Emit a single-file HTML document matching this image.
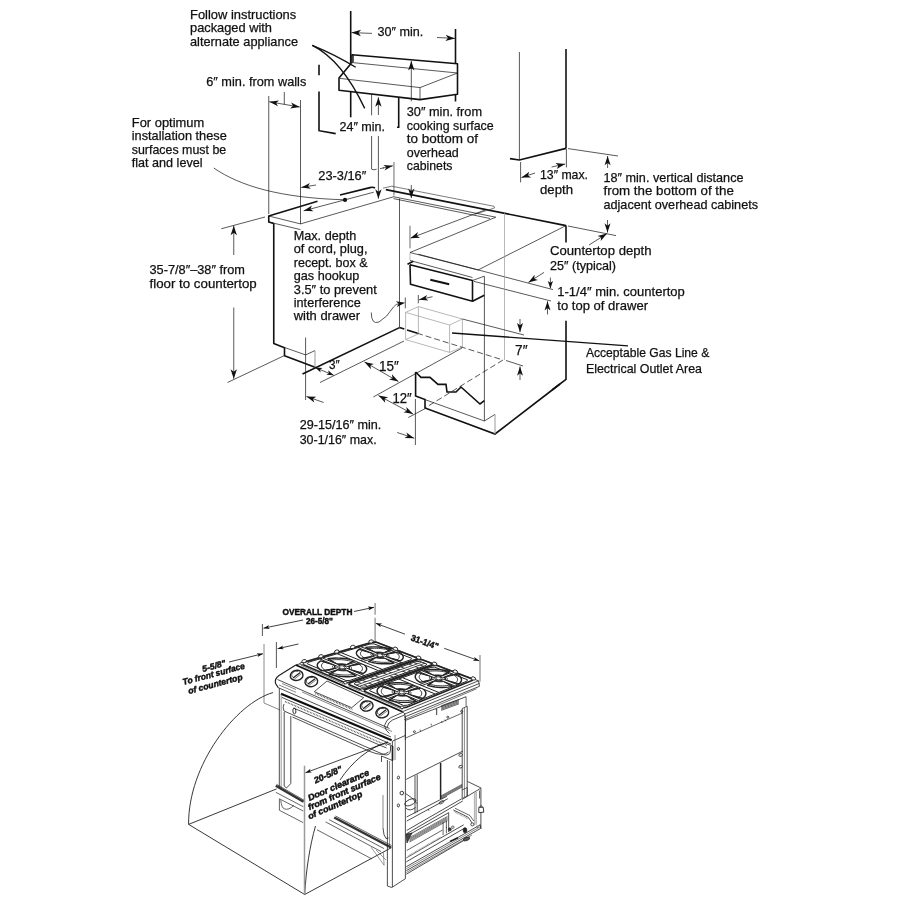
<!DOCTYPE html>
<html><head><meta charset="utf-8"><title>Installation dimensions</title>
<style>html,body{margin:0;padding:0;background:#fff}svg{display:block;will-change:transform;filter:grayscale(1)}text{font-family:"Liberation Sans",sans-serif;fill:#111}</style>
</head><body>
<svg width="900" height="900" viewBox="0 0 900 900">
<rect width="900" height="900" fill="#fff"/>
<text x="190" y="18.75" font-size="12.6" textLength="106.25" lengthAdjust="spacingAndGlyphs" stroke="#111" stroke-width="0.25">Follow instructions</text>
<text x="190" y="32" font-size="12.6" textLength="82" lengthAdjust="spacingAndGlyphs" stroke="#111" stroke-width="0.25">packaged with</text>
<text x="190" y="45.5" font-size="12.6" textLength="108" lengthAdjust="spacingAndGlyphs" stroke="#111" stroke-width="0.25">alternate appliance</text>
<text x="206.25" y="85.75" font-size="12.6" textLength="100" lengthAdjust="spacingAndGlyphs" stroke="#111" stroke-width="0.25">6″ min. from walls</text>
<text x="131.75" y="126.75" font-size="12.6" textLength="72.5" lengthAdjust="spacingAndGlyphs" stroke="#111" stroke-width="0.25">For optimum</text>
<text x="131.75" y="140" font-size="12.6" textLength="95" lengthAdjust="spacingAndGlyphs" stroke="#111" stroke-width="0.25">installation these</text>
<text x="131.75" y="153.5" font-size="12.6" textLength="94.5" lengthAdjust="spacingAndGlyphs" stroke="#111" stroke-width="0.25">surfaces must be</text>
<text x="131.75" y="166.75" font-size="12.6" textLength="70.75" lengthAdjust="spacingAndGlyphs" stroke="#111" stroke-width="0.25">flat and level</text>
<text x="377.5" y="35.5" font-size="12.6" textLength="45.75" lengthAdjust="spacingAndGlyphs" stroke="#111" stroke-width="0.25">30″ min.</text>
<text x="339.5" y="130.75" font-size="12.6" textLength="45.5" lengthAdjust="spacingAndGlyphs" stroke="#111" stroke-width="0.25">24″ min.</text>
<text x="406.75" y="116.25" font-size="12.6" textLength="75.25" lengthAdjust="spacingAndGlyphs" stroke="#111" stroke-width="0.25">30″ min. from</text>
<text x="406.75" y="130" font-size="12.6" textLength="87" lengthAdjust="spacingAndGlyphs" stroke="#111" stroke-width="0.25">cooking surface</text>
<text x="406.75" y="143.25" font-size="12.6" textLength="71.25" lengthAdjust="spacingAndGlyphs" stroke="#111" stroke-width="0.25">to bottom of</text>
<text x="406.75" y="156.75" font-size="12.6" textLength="52" lengthAdjust="spacingAndGlyphs" stroke="#111" stroke-width="0.25">overhead</text>
<text x="406.75" y="170" font-size="12.6" textLength="45.75" lengthAdjust="spacingAndGlyphs" stroke="#111" stroke-width="0.25">cabinets</text>
<text x="318.25" y="180" font-size="12.6" textLength="48" lengthAdjust="spacingAndGlyphs" stroke="#111" stroke-width="0.25">23-3/16″</text>
<text x="293.75" y="240" font-size="12.6" textLength="62.5" lengthAdjust="spacingAndGlyphs" stroke="#111" stroke-width="0.25">Max. depth</text>
<text x="293.75" y="253.25" font-size="12.6" textLength="73.75" lengthAdjust="spacingAndGlyphs" stroke="#111" stroke-width="0.25">of cord, plug,</text>
<text x="293.75" y="266.75" font-size="12.6" textLength="73.75" lengthAdjust="spacingAndGlyphs" stroke="#111" stroke-width="0.25">recept. box &amp;</text>
<text x="293.75" y="280" font-size="12.6" textLength="65.5" lengthAdjust="spacingAndGlyphs" stroke="#111" stroke-width="0.25">gas hookup</text>
<text x="293.75" y="293.75" font-size="12.6" textLength="83" lengthAdjust="spacingAndGlyphs" stroke="#111" stroke-width="0.25">3.5″ to prevent</text>
<text x="293.75" y="307" font-size="12.6" textLength="67" lengthAdjust="spacingAndGlyphs" stroke="#111" stroke-width="0.25">interference</text>
<text x="293.75" y="320" font-size="12.6" textLength="66.25" lengthAdjust="spacingAndGlyphs" stroke="#111" stroke-width="0.25">with drawer</text>
<text x="149.5" y="273.75" font-size="12.6" textLength="95.5" lengthAdjust="spacingAndGlyphs" stroke="#111" stroke-width="0.25">35-7/8″–38″ from</text>
<text x="149.5" y="287.5" font-size="12.6" textLength="107.25" lengthAdjust="spacingAndGlyphs" stroke="#111" stroke-width="0.25">floor to countertop</text>
<text x="299.7" y="428.8" font-size="12.6" textLength="81.6" lengthAdjust="spacingAndGlyphs" stroke="#111" stroke-width="0.25">29-15/16″ min.</text>
<text x="299.7" y="443.8" font-size="12.6" textLength="77" lengthAdjust="spacingAndGlyphs" stroke="#111" stroke-width="0.25">30-1/16″ max.</text>
<text x="550" y="254.8" font-size="12.6" textLength="101.5" lengthAdjust="spacingAndGlyphs" stroke="#111" stroke-width="0.25">Countertop depth</text>
<text x="550" y="269.5" font-size="12.6" textLength="66" lengthAdjust="spacingAndGlyphs" stroke="#111" stroke-width="0.25">25″ (typical)</text>
<text x="557.3" y="296" font-size="12.6" textLength="127.5" lengthAdjust="spacingAndGlyphs" stroke="#111" stroke-width="0.25">1-1/4″ min. countertop</text>
<text x="557.3" y="310" font-size="12.6" textLength="90.7" lengthAdjust="spacingAndGlyphs" stroke="#111" stroke-width="0.25">to top of drawer</text>
<text x="585.9" y="356.7" font-size="12.6" textLength="123.4" lengthAdjust="spacingAndGlyphs" stroke="#111" stroke-width="0.25">Acceptable Gas Line &amp;</text>
<text x="585.9" y="372.7" font-size="12.6" textLength="116.1" lengthAdjust="spacingAndGlyphs" stroke="#111" stroke-width="0.25">Electrical Outlet Area</text>
<text x="540" y="178.6" font-size="12.6" textLength="48" lengthAdjust="spacingAndGlyphs" stroke="#111" stroke-width="0.25">13″ max.</text>
<text x="540" y="193.6" font-size="12.6" textLength="33" lengthAdjust="spacingAndGlyphs" stroke="#111" stroke-width="0.25">depth</text>
<text x="603.5" y="182" font-size="12.6" textLength="140" lengthAdjust="spacingAndGlyphs" stroke="#111" stroke-width="0.25">18″ min. vertical distance</text>
<text x="603.5" y="195.3" font-size="12.6" textLength="130.4" lengthAdjust="spacingAndGlyphs" stroke="#111" stroke-width="0.25">from the bottom of the</text>
<text x="603.5" y="208.7" font-size="12.6" textLength="154.5" lengthAdjust="spacingAndGlyphs" stroke="#111" stroke-width="0.25">adjacent overhead cabinets</text>
<text x="329" y="369" font-size="13" textLength="10.7" lengthAdjust="spacingAndGlyphs" stroke="#111" stroke-width="0.25">3″</text>
<text x="379" y="370.5" font-size="14" textLength="19.7" lengthAdjust="spacingAndGlyphs" stroke="#111" stroke-width="0.25">15″</text>
<text x="392.5" y="402.8" font-size="14" textLength="19.2" lengthAdjust="spacingAndGlyphs" stroke="#111" stroke-width="0.25">12″</text>
<text x="515" y="355.4" font-size="15.5" textLength="12.5" lengthAdjust="spacingAndGlyphs" stroke="#111" stroke-width="0.25">7″</text>
<path d="M350.7 11 L350.7 63.3" fill="none" stroke="#111" stroke-width="1.6"/>
<path d="M350.7 92 L350.7 117.3" fill="none" stroke="#111" stroke-width="1.6"/>
<path d="M455.5 29 L455.5 63.5" fill="none" stroke="#111" stroke-width="1.6"/>
<path d="M455.5 95 L455.5 101.5" fill="none" stroke="#111" stroke-width="1.6"/>
<path d="M372 33.4 L351.5 32.6" fill="none" stroke="#111" stroke-width="0.7"/>
<path d="M351.5 32.6 L361.12 29.77 L358.49 32.87 L360.87 36.17 Z" fill="#111"/>
<path d="M437 37.5 L455 38.4" fill="none" stroke="#111" stroke-width="0.7"/>
<path d="M455 38.4 L445.35 41.12 L448.01 38.05 L445.67 34.73 Z" fill="#111"/>
<path d="M351.3 63.3 L339 78 L339 90.3 L420 99.6 L457.5 94.3 L457.5 63.8 L352 54.8 L352 63.3" fill="none" stroke="#111" stroke-width="1.6" stroke-linejoin="round"/>
<path d="M353.5 55.3 L353.5 62.7 L457.5 73" fill="none" stroke="#111" stroke-width="0.7"/>
<path d="M340 78.4 L420 87.6 L457.5 73" fill="none" stroke="#111" stroke-width="0.7"/>
<path d="M420 87.6 L420 99.5" fill="none" stroke="#111" stroke-width="0.7"/>
<path d="M312.3 45.3 Q336 55 355.7 67.3" fill="none" stroke="#111" stroke-width="1.35"/>
<path d="M312.3 45.3 Q342 60 364.7 108.4" fill="none" stroke="#111" stroke-width="1.35"/>
<path d="M319 64.7 L319 75.3" fill="none" stroke="#111" stroke-width="1.6"/>
<path d="M319 91.6 L319 130.7 L335.7 133.6" fill="none" stroke="#111" stroke-width="1.6"/>
<path d="M371.6 94 L371.6 115.3" fill="none" stroke="#111" stroke-width="0.7"/>
<path d="M371.6 136 L371.6 169" fill="none" stroke="#111" stroke-width="0.7"/>
<path d="M371.6 169.3 L374 169.8 L376.6 169.2" fill="none" stroke="#111" stroke-width="0.7"/>
<path d="M380 168.6 L384 167.8" fill="none" stroke="#111" stroke-width="0.7"/>
<path d="M383 168 L392.8 165.8" fill="none" stroke="#111" stroke-width="0.7"/>
<path d="M392.8 165.8 L384.65 170.6 L386.36 167.25 L383.38 164.94 Z" fill="#111"/>
<path d="M393.9 162 L393.9 195.5" fill="none" stroke="#a8a8a8" stroke-width="1.7"/>
<path d="M378.4 115 L378.4 97.3" fill="none" stroke="#111" stroke-width="0.7"/>
<path d="M378.4 97.3 L381.6 106.8 L378.4 104.3 L375.2 106.8 Z" fill="#111"/>
<path d="M378.4 136 L378.4 198.7" fill="none" stroke="#111" stroke-width="0.7"/>
<path d="M378.4 198.7 L375.2 189.2 L378.4 191.7 L381.6 189.2 Z" fill="#111"/>
<path d="M398.7 97.3 L398.7 127.3 L397 127.3" fill="none" stroke="#111" stroke-width="1.6"/>
<path d="M411.3 101.3 L411.3 61" fill="none" stroke="#111" stroke-width="0.7"/>
<path d="M411.3 61 L414.5 70.5 L411.3 68 L408.1 70.5 Z" fill="#111"/>
<path d="M411.3 185 L411.3 198" fill="none" stroke="#111" stroke-width="0.7"/>
<path d="M411.3 198 L408.1 188.5 L411.3 191 L414.5 188.5 Z" fill="#111"/>
<path d="M268.75 96 L268.75 214" fill="none" stroke="#111" stroke-width="0.7"/>
<path d="M300.5 100 L300.5 224" fill="none" stroke="#111" stroke-width="0.7"/>
<path d="M299.8 107 L269.3 101.8" fill="none" stroke="#111" stroke-width="0.7"/>
<path d="M269.3 101.8 L278.97 100.41 L276.1 102.96 L277.96 106.32 Z" fill="#111"/>
<path d="M299.8 107 L290.13 108.39 L293 105.84 L291.14 102.48 Z" fill="#111"/>
<path d="M284.3 92 L284.3 104.3" fill="none" stroke="#111" stroke-width="0.7"/>
<path d="M213.75 168 C240 186 280 198 345 199.8" fill="none" stroke="#111" stroke-width="0.7"/>
<circle cx="345" cy="199.9" r="2.1" fill="#111"/>
<path d="M316 185 L301.2 187.4" fill="none" stroke="#111" stroke-width="0.7"/>
<path d="M301.2 187.4 L309.9 182.95 L308.01 186.3 L310.86 188.87 Z" fill="#111"/>
<path d="M373.75 192.2 L303.7 210.8" fill="none" stroke="#111" stroke-width="0.7"/>
<path d="M303.7 210.8 L311.92 205.51 L310.37 209.03 L313.46 211.31 Z" fill="#111"/>
<path d="M268.75 216 L317.5 201.3" fill="none" stroke="#111" stroke-width="1.6"/>
<path d="M340 195 L370 187.6 Q373 186.8 375 188" fill="none" stroke="#111" stroke-width="1.6"/>
<path d="M268.75 215.5 L268.75 222 L273.75 223.5" fill="none" stroke="#111" stroke-width="1.6" stroke-linejoin="round"/>
<path d="M268.75 216 L300.5 223.9 L393.5 196.8" fill="none" stroke="#111" stroke-width="0.7"/>
<path d="M268.75 222 L300.5 229.6" fill="none" stroke="#111" stroke-width="0.7"/>
<path d="M273.75 223.5 L273.75 343.5 L284.5 347.7 L284.5 355.7 L315 367.3" fill="none" stroke="#111" stroke-width="1.6" stroke-linejoin="round"/>
<path d="M284.5 347.5 L305.6 354.9 L315 350.6" fill="none" stroke="#111" stroke-width="0.7"/>
<path d="M315 350.6 L315 367.5" fill="none" stroke="#999" stroke-width="1"/>
<path d="M305.6 337.5 L305.6 400" fill="none" stroke="#111" stroke-width="0.7"/>
<path d="M302.5 374 L399.5 327.6" fill="none" stroke="#111" stroke-width="1.6"/>
<path d="M399.5 327.6 L404.3 329.1" fill="none" stroke="#111" stroke-width="1.6"/>
<path d="M407 330 L417.5 333.3" fill="none" stroke="#111" stroke-width="1.6"/>
<path d="M399.5 198.5 L399.5 327.6" fill="none" stroke="#111" stroke-width="0.7"/>
<path d="M221.25 228.75 L265 217" fill="none" stroke="#111" stroke-width="0.7"/>
<path d="M227.5 382.5 L284.5 355.5" fill="none" stroke="#111" stroke-width="0.7"/>
<path d="M233.75 255 L233.75 225.8" fill="none" stroke="#111" stroke-width="0.7"/>
<path d="M233.75 225.8 L236.95 235.3 L233.75 232.8 L230.55 235.3 Z" fill="#111"/>
<path d="M233.75 307.5 L233.75 378.8" fill="none" stroke="#111" stroke-width="0.7"/>
<path d="M233.75 378.8 L230.55 369.3 L233.75 371.8 L236.95 369.3 Z" fill="#111"/>
<path d="M333.7 375.3 L315.2 367.5" fill="none" stroke="#111" stroke-width="0.7"/>
<path d="M315.2 367.5 L322.58 368.01 L319.99 369.52 L320.72 372.43 Z" fill="#111"/>
<path d="M333.7 375.3 L326.32 374.79 L328.91 373.28 L328.18 370.37 Z" fill="#111"/>
<path d="M320 382.5 L404 341" fill="none" stroke="#111" stroke-width="0.7"/>
<path d="M398.5 381.6 L364.4 361.9" fill="none" stroke="#111" stroke-width="0.7"/>
<path d="M364.4 361.9 L373.95 363.95 L370.37 365.35 L370.95 369.15 Z" fill="#111"/>
<path d="M398.5 381.6 L388.95 379.55 L392.53 378.15 L391.95 374.35 Z" fill="#111"/>
<path d="M373.3 397 L462 348" fill="none" stroke="#111" stroke-width="0.7"/>
<path d="M413.1 414.1 L378.5 395.6" fill="none" stroke="#111" stroke-width="0.7"/>
<path d="M378.5 395.6 L388.12 397.34 L384.58 398.85 L385.29 402.63 Z" fill="#111"/>
<path d="M413.1 414.1 L403.48 412.36 L407.02 410.85 L406.31 407.07 Z" fill="#111"/>
<path d="M408.3 417.5 L425 408.7" fill="none" stroke="#111" stroke-width="0.7"/>
<path d="M323.7 402.5 L306.5 396.5" fill="none" stroke="#111" stroke-width="0.7"/>
<path d="M306.5 396.5 L316.27 396.73 L313.01 398.77 L314.29 402.4 Z" fill="#111"/>
<path d="M397.2 432.5 L414.3 438.2" fill="none" stroke="#111" stroke-width="0.7"/>
<path d="M414.3 438.2 L404.53 438.11 L407.75 436.02 L406.43 432.41 Z" fill="#111"/>
<path d="M415.4 399 L415.4 445" fill="none" stroke="#111" stroke-width="0.7"/>
<path d="M385.8 189.6 L566 225.6" fill="none" stroke="#111" stroke-width="1.6"/>
<path d="M568 226 L616 235.6" fill="none" stroke="#111" stroke-width="0.7"/>
<path d="M566 225.6 L566 242.5" fill="none" stroke="#111" stroke-width="1.6"/>
<path d="M566 320.7 L566 379.3 L552 390" fill="none" stroke="#111" stroke-width="1.6"/>
<path d="M383 188.2 L391.7 186.2 L494 206.3 L494.5 208 L475 214.2" fill="none" stroke="#444" stroke-width="0.7"/>
<path d="M393.3 196.7 L495.8 217.2 L410 252.5" fill="none" stroke="#111" stroke-width="0.7"/>
<path d="M393.5 198.6 L490 218.5" fill="none" stroke="#111" stroke-width="0.7"/>
<path d="M485 210 L410.3 238.2" fill="none" stroke="#111" stroke-width="0.7"/>
<path d="M410.3 238.2 L417.94 232.11 L416.76 235.76 L420.06 237.72 Z" fill="#111"/>
<path d="M410 225.8 L410 248.3" fill="none" stroke="#a8a8a8" stroke-width="1.7"/>
<path d="M410 252.5 L410 260.5" fill="none" stroke="#bbb" stroke-width="1"/>
<path d="M566 225.6 L478 270" fill="none" stroke="#111" stroke-width="0.7"/>
<path d="M410 252.5 L478.3 270" fill="none" stroke="#111" stroke-width="0.7"/>
<path d="M418.3 254.2 L553 289.6" fill="none" stroke="#111" stroke-width="0.7"/>
<path d="M410 260.5 L472.5 277.5" fill="none" stroke="#111" stroke-width="0.7"/>
<path d="M474 281.4 L551 301" fill="none" stroke="#111" stroke-width="0.7"/>
<path d="M410 264.7 L472.5 280.5 L472.5 301.3 L410.5 284.2 L410 264.7" fill="none" stroke="#111" stroke-width="1.6" stroke-linejoin="round"/>
<path d="M472.5 301.3 L484.3 295.2" fill="none" stroke="#111" stroke-width="1.6"/>
<path d="M472.5 280.5 L484.3 276.2" fill="none" stroke="#111" stroke-width="0.7"/>
<path d="M484.4 276.2 L484.4 421" fill="none" stroke="#111" stroke-width="0.7"/>
<path d="M430.3 279.7 L449.2 284.2" fill="none" stroke="#111" stroke-width="2"/>
<path d="M407.5 264.2 L413.3 261.3" fill="none" stroke="#111" stroke-width="1.6"/>
<path d="M589 245 L607 233.6" fill="none" stroke="#111" stroke-width="0.7"/>
<path d="M607 233.6 L600.75 241.11 L601.17 237.29 L597.54 236.04 Z" fill="#111"/>
<path d="M607.5 220 L607.5 232.6" fill="none" stroke="#111" stroke-width="0.7"/>
<path d="M607.5 232.6 L604.5 223.3 L607.5 225.7 L610.5 223.3 Z" fill="#111"/>
<path d="M544 272.4 L528.4 282.4" fill="none" stroke="#111" stroke-width="0.7"/>
<path d="M528.4 282.4 L534.61 274.86 L534.21 278.68 L537.85 279.91 Z" fill="#111"/>
<path d="M550.4 277.6 L550.4 288.4" fill="none" stroke="#111" stroke-width="0.7"/>
<path d="M550.4 288.4 L547.8 280.9 L550.4 282.8 L553 280.9 Z" fill="#111"/>
<path d="M547.5 314.4 L547.5 301.2" fill="none" stroke="#111" stroke-width="0.7"/>
<path d="M547.5 301.2 L550.5 310.5 L547.5 308.1 L544.5 310.5 Z" fill="#111"/>
<path d="M504.5 213 L504.5 360" fill="none" stroke="#999" stroke-width="0.7"/>
<path d="M405.6 312.4 L449.6 325 L449.6 352.4 L405.6 339.6 L405.6 312.4" fill="none" stroke="#9a9a9a" stroke-width="0.7"/>
<path d="M405.6 312.4 L418.4 306.6 L462.4 319 L449.6 325" fill="none" stroke="#9a9a9a" stroke-width="0.7"/>
<path d="M462.4 319 L462.4 347 L449.6 352.4" fill="none" stroke="#9a9a9a" stroke-width="0.7"/>
<path d="M418.4 306.6 L418.4 334 L405.6 339.6" fill="none" stroke="#9a9a9a" stroke-width="0.7"/>
<path d="M405.3 297.5 L405.3 308.3" fill="none" stroke="#111" stroke-width="0.7"/>
<path d="M418.3 295 L418.3 303.3" fill="none" stroke="#111" stroke-width="0.7"/>
<path d="M432.5 296.7 L419 299.8" fill="none" stroke="#111" stroke-width="0.7"/>
<path d="M419 299.8 L427.12 294.96 L425.43 298.32 L428.42 300.61 Z" fill="#111"/>
<path d="M371.3 312.5 Q371.3 325 379 322 Q387 317.5 393.5 307 Q396 303.6 399.5 303.6" fill="none" stroke="#111" stroke-width="0.7"/>
<path d="M405.2 302.7 L396.78 307.01 L398.69 303.76 L395.85 301.29 Z" fill="#111"/>
<path d="M417 333.2 L503 360" fill="none" stroke="#111" stroke-width="0.7" stroke-dasharray="6 3"/>
<path d="M503 360 L425 408" fill="none" stroke="#111" stroke-width="0.7" stroke-dasharray="6 3"/>
<path d="M506 360.5 L523 366" fill="none" stroke="#111" stroke-width="0.7"/>
<path d="M462.4 319 L524 335" fill="none" stroke="#111" stroke-width="0.7"/>
<path d="M452 333 L628 345.8" fill="none" stroke="#111" stroke-width="1.35"/>
<path d="M520 319 L520 332.2" fill="none" stroke="#111" stroke-width="0.7"/>
<path d="M520 332.2 L517 322.9 L520 325.3 L523 322.9 Z" fill="#111"/>
<path d="M520 380 L520 366.4" fill="none" stroke="#111" stroke-width="0.7"/>
<path d="M520 366.4 L523 375.7 L520 373.3 L517 375.7 Z" fill="#111"/>
<path d="M415.6 372 L421 377.4 L430 377.4 L438 384.4 L446 384.4 L447 392 L456 392 L461 387 L480 404 L484.4 400.6" fill="none" stroke="#111" stroke-width="1.6"/>
<path d="M415.6 372 L415.6 396 L425 399.6 L425 408 L495 434 L560 384" fill="none" stroke="#111" stroke-width="1.6"/>
<path d="M425 399.6 L484.4 421 L495 414.4" fill="none" stroke="#111" stroke-width="0.7"/>
<path d="M495 414.4 L495 434" fill="none" stroke="#999" stroke-width="1"/>
<path d="M519.4 52 L519.4 159.6" fill="none" stroke="#111" stroke-width="0.7"/>
<path d="M566 49 L566 148.4" fill="none" stroke="#111" stroke-width="1.6"/>
<path d="M510 158.6 L519.4 160 L566 148.4" fill="none" stroke="#111" stroke-width="1.6" stroke-linejoin="round"/>
<path d="M568 148.6 L618 156" fill="none" stroke="#111" stroke-width="0.7"/>
<path d="M607.6 168 L607.6 156" fill="none" stroke="#111" stroke-width="0.7"/>
<path d="M607.6 156 L610.6 165.3 L607.6 162.9 L604.6 165.3 Z" fill="#111"/>
<path d="M520.6 162 L520.6 182.4" fill="none" stroke="#111" stroke-width="0.7"/>
<path d="M566.4 149 L566.4 167.4" fill="none" stroke="#111" stroke-width="0.7"/>
<path d="M535 173 L521.4 177.6" fill="none" stroke="#111" stroke-width="0.7"/>
<path d="M521.4 177.6 L529.25 171.78 L527.94 175.39 L531.17 177.46 Z" fill="#111"/>
<path d="M551.6 167 L565.2 164" fill="none" stroke="#111" stroke-width="0.7"/>
<path d="M565.2 164 L556.76 168.93 L558.46 165.49 L555.47 163.07 Z" fill="#111"/>
<defs><filter id="soft" x="-5%" y="-5%" width="110%" height="110%"><feGaussianBlur stdDeviation="0.38"/></filter></defs>
<g id="range" filter="url(#soft)">
<text x="282.6" y="615" font-size="8.6" font-weight="bold" stroke="#111" stroke-width="0.45" stroke-linejoin="round" textLength="69.8" lengthAdjust="spacingAndGlyphs">OVERALL DEPTH</text>
<text x="306" y="623.6" font-size="8.6" font-weight="bold" stroke="#111" stroke-width="0.45" stroke-linejoin="round" textLength="27" lengthAdjust="spacingAndGlyphs">26-5/8"</text>
<path d="M262.4 624 L262.4 636" fill="none" stroke="#555" stroke-width="1"/>
<path d="M303 620 L263.5 628.2" fill="none" stroke="#111" stroke-width="0.8"/>
<path d="M263.5 628.2 L268.97 625.02 L267.91 627.29 L269.78 628.94 Z" fill="#111"/>
<path d="M354 611.5 L374 607.3" fill="none" stroke="#111" stroke-width="0.8"/>
<path d="M374 607.3 L368.54 610.49 L369.6 608.22 L367.72 606.58 Z" fill="#111"/>
<path d="M375.1 603 L375.1 614.8" fill="none" stroke="#8a8a8a" stroke-width="1.2"/>
<path d="M375.1 617.8 L375.1 641.5" fill="none" stroke="#8a8a8a" stroke-width="1.2"/>
<path d="M264 644 L264 703 L280 710" fill="none" stroke="#8a8a8a" stroke-width="1"/>
<path d="M276.4 642 L276.4 668" fill="none" stroke="#555" stroke-width="1"/>
<path d="M298.4 644 L277.6 648.7" fill="none" stroke="#111" stroke-width="0.8"/>
<path d="M277.6 648.7 L283.01 645.43 L281.99 647.71 L283.89 649.33 Z" fill="#111"/>
<path d="M229 662 L263 653.7" fill="none" stroke="#111" stroke-width="0.8"/>
<path d="M263 653.7 L257.65 657.07 L258.63 654.77 L256.7 653.18 Z" fill="#111"/>
<text x="203" y="672" font-size="8.6" font-weight="bold" stroke="#111" stroke-width="0.45" stroke-linejoin="round" font-style="italic" textLength="24" lengthAdjust="spacingAndGlyphs" transform="rotate(-15 203 672)">5-5/8"</text>
<text x="183.6" y="685" font-size="8.6" font-weight="bold" stroke="#111" stroke-width="0.45" stroke-linejoin="round" font-style="italic" textLength="64" lengthAdjust="spacingAndGlyphs" transform="rotate(-15 183.6 685)">To front surface</text>
<text x="189" y="694" font-size="8.6" font-weight="bold" stroke="#111" stroke-width="0.45" stroke-linejoin="round" font-style="italic" textLength="56" lengthAdjust="spacingAndGlyphs" transform="rotate(-15 189 694)">of countertop</text>
<text x="410.3" y="640.3" font-size="8.8" font-weight="bold" stroke="#111" stroke-width="0.45" stroke-linejoin="round" textLength="28.5" lengthAdjust="spacingAndGlyphs" transform="rotate(19 410.3 640.3)">31-1/4"</text>
<path d="M480 655 L480 681.7" fill="none" stroke="#8a8a8a" stroke-width="1.2"/>
<path d="M405 634.2 L375.8 623.3" fill="none" stroke="#111" stroke-width="0.8"/>
<path d="M375.8 623.3 L382.12 623.52 L380.02 624.87 L380.72 627.27 Z" fill="#111"/>
<path d="M444.2 648.3 L479.2 660.8" fill="none" stroke="#111" stroke-width="0.8"/>
<path d="M479.2 660.8 L472.88 660.67 L474.96 659.29 L474.22 656.9 Z" fill="#111"/>
<path d="M273 692.6 C236 703 188 765 188.6 824.4" fill="none" stroke="#222" stroke-width="0.9"/>
<path d="M276.6 788.9 L188.6 824.4 L304.7 894.5 L391.5 847.6" fill="none" stroke="#222" stroke-width="0.9"/>
<path d="M304.7 894.5 C306 870 310 845 315.5 826" fill="none" stroke="#222" stroke-width="0.9"/>
<path d="M340 780 C352 762 368 748 388 742" fill="none" stroke="#222" stroke-width="0.9"/>
<path d="M304.5 765.7 L304.5 894.5" fill="none" stroke="#9a9a9a" stroke-width="1.5"/>
<path d="M388 742 L305.5 772.8" fill="none" stroke="#111" stroke-width="0.8"/>
<path d="M305.5 772.8 L310.42 768.83 L309.72 771.23 L311.82 772.58 Z" fill="#111"/>
<text x="315.5" y="783.5" font-size="8.8" font-weight="bold" stroke="#111" stroke-width="0.45" stroke-linejoin="round" font-style="italic" textLength="30" lengthAdjust="spacingAndGlyphs" transform="rotate(-24 315.5 783.5)">20-5/8"</text>
<text x="309.4" y="801" font-size="8.8" font-weight="bold" stroke="#111" stroke-width="0.45" stroke-linejoin="round" font-style="italic" textLength="66" lengthAdjust="spacingAndGlyphs" transform="rotate(-23.5 309.4 801)">Door clearance</text>
<text x="309.4" y="810.3" font-size="8.8" font-weight="bold" stroke="#111" stroke-width="0.45" stroke-linejoin="round" font-style="italic" textLength="78.5" lengthAdjust="spacingAndGlyphs" transform="rotate(-23.5 309.4 810.3)">from front surface</text>
<text x="309.4" y="819.5" font-size="8.8" font-weight="bold" stroke="#111" stroke-width="0.45" stroke-linejoin="round" font-style="italic" textLength="58.5" lengthAdjust="spacingAndGlyphs" transform="rotate(-23.5 309.4 819.5)">of countertop</text>
<path d="M295.8 665 L375.5 641.7 L478.5 680.8 L402.5 711.7" fill="none" stroke="#222" stroke-width="0.8" stroke-linejoin="round"/>
<path d="M295.8 665 L402.5 711.7" fill="none" stroke="#111" stroke-width="1.8"/>
<path d="M404 714.3 L479.5 683.4" fill="none" stroke="#222" stroke-width="0.8"/>
<path d="M404 717.2 L479.5 686.3" fill="none" stroke="#222" stroke-width="0.8"/>
<path d="M404 719.7 L476.5 688.8" fill="none" stroke="#555" stroke-width="0.8"/>
<path d="M478.5 680.8 L479.5 686.3" fill="none" stroke="#222" stroke-width="0.8"/>
<path d="M301.25 665.35 L344.95 684.38" fill="none" stroke="#555" stroke-width="0.8"/>
<path d="M348.46 685.92 L360.4 691.12" fill="none" stroke="#555" stroke-width="0.8"/>
<path d="M363.81 692.6 L402.5 709.46" fill="none" stroke="#555" stroke-width="0.8"/>
<path d="M301.68 663.93 L344.52 682.6 L348.35 682.45 L416.26 659.23 L417.16 657.88 L375.7 642.06 L371.87 642.21 L302.58 662.58 Z" fill="none" stroke="#222" stroke-width="1.6" stroke-linejoin="round"/>
<path d="M307.18 663.7 L346.12 680.57 L349.95 680.42 L410.89 659.72 L411.79 658.36 L373.98 643.83 L370.15 643.98 L308.07 662.35 Z" fill="none" stroke="#222" stroke-width="1" stroke-linejoin="round"/>
<path d="M348.89 684.5 L359.97 689.33 L363.79 689.15 L431.23 664.97 L432.11 663.59 L421.39 659.5 L417.6 659.75 L349.74 683.05 Z" fill="none" stroke="#222" stroke-width="1.6" stroke-linejoin="round"/>
<path d="M354.31 684.12 L361.55 687.26 L365.37 687.07 L425.88 665.51 L426.76 664.12 L419.74 661.42 L415.95 661.67 L355.16 682.67 Z" fill="none" stroke="#222" stroke-width="1" stroke-linejoin="round"/>
<path d="M364.24 691.19 L402.07 707.67 L405.84 707.4 L472.01 680.61 L472.85 679.14 L436.24 665.16 L432.47 665.45 L365.07 689.7 Z" fill="none" stroke="#222" stroke-width="1.6" stroke-linejoin="round"/>
<path d="M369.64 690.76 L403.58 705.46 L407.35 705.19 L466.73 681.28 L467.57 679.81 L434.61 667.14 L430.85 667.42 L370.47 689.27 Z" fill="none" stroke="#222" stroke-width="1" stroke-linejoin="round"/>
<path d="M363.1 673.49 L364.42 672.64 L365.45 671.71 L366.17 670.74 L366.57 669.72 L366.65 668.67 L366.4 667.61 L365.84 666.55 L364.96 665.5 L363.78 664.48 L362.31 663.51 L348.12 666.14 L348.56 666.44 L348.92 666.75 L349.18 667.07 L349.35 667.39 L349.43 667.71 L349.4 668.02 L349.28 668.32 L349.06 668.61 L348.75 668.89 L348.35 669.14 Z" fill="none" stroke="#222" stroke-width="1.45" stroke-linejoin="round"/>
<path d="M359.52 672.44 L360.62 671.73 L361.47 670.97 L362.07 670.16 L362.41 669.32 L362.47 668.45 L362.27 667.57 L361.8 666.69 L361.07 665.81 L360.09 664.97 L358.87 664.15 L349.84 665.82 L350.41 666.21 L350.87 666.6 L351.21 667.01 L351.43 667.42 L351.52 667.83 L351.49 668.23 L351.33 668.62 L351.05 669 L350.66 669.35 L350.14 669.67 Z" fill="none" stroke="#222" stroke-width="0.9" stroke-linejoin="round"/>
<path d="M356.1 675.85 L353.69 676.24 L351.11 676.51 L348.42 676.66 L345.64 676.68 L342.81 676.56 L339.96 676.32 L337.14 675.95 L334.39 675.46 L331.73 674.86 L329.21 674.15 L338.17 669.31 L338.93 669.52 L339.72 669.69 L340.55 669.84 L341.39 669.94 L342.25 670.02 L343.1 670.05 L343.93 670.05 L344.74 670.01 L345.51 669.93 L346.24 669.82 Z" fill="none" stroke="#222" stroke-width="1.45" stroke-linejoin="round"/>
<path d="M353.7 674.38 L351.7 674.7 L349.56 674.93 L347.33 675.04 L345.02 675.06 L342.67 674.96 L340.31 674.76 L337.97 674.45 L335.68 674.05 L333.47 673.55 L331.38 672.97 L337.08 669.9 L338.05 670.16 L339.07 670.39 L340.13 670.57 L341.22 670.71 L342.31 670.8 L343.4 670.85 L344.47 670.85 L345.51 670.79 L346.5 670.69 L347.44 670.55 Z" fill="none" stroke="#222" stroke-width="0.9" stroke-linejoin="round"/>
<path d="M328 658.77 L330.44 658.43 L333.04 658.2 L335.75 658.09 L338.54 658.1 L341.38 658.22 L344.22 658.46 L347.03 658.8 L349.77 659.26 L352.4 659.81 L354.9 660.46 L345.88 665.2 L345.13 665 L344.34 664.83 L343.51 664.69 L342.67 664.59 L341.82 664.51 L340.97 664.48 L340.13 664.48 L339.32 664.52 L338.54 664.59 L337.81 664.7 Z" fill="none" stroke="#222" stroke-width="1.45" stroke-linejoin="round"/>
<path d="M330.38 660.21 L332.41 659.92 L334.56 659.73 L336.81 659.63 L339.12 659.64 L341.48 659.74 L343.83 659.93 L346.17 660.22 L348.44 660.6 L350.63 661.07 L352.71 661.61 L346.97 664.63 L346.01 664.37 L344.99 664.15 L343.94 663.97 L342.85 663.83 L341.76 663.74 L340.67 663.7 L339.59 663.7 L338.55 663.74 L337.56 663.84 L336.62 663.97 Z" fill="none" stroke="#222" stroke-width="0.9" stroke-linejoin="round"/>
<path d="M320.9 660.9 L319.55 661.7 L318.5 662.58 L317.76 663.52 L317.35 664.52 L317.27 665.56 L317.51 666.63 L318.09 667.71 L318.98 668.79 L320.19 669.85 L321.68 670.89 L335.93 668.35 L335.48 668.05 L335.12 667.74 L334.86 667.42 L334.69 667.09 L334.61 666.77 L334.64 666.46 L334.76 666.16 L334.98 665.87 L335.29 665.6 L335.69 665.36 Z" fill="none" stroke="#222" stroke-width="1.45" stroke-linejoin="round"/>
<path d="M324.49 661.99 L323.38 662.65 L322.51 663.39 L321.89 664.17 L321.55 665 L321.48 665.87 L321.69 666.75 L322.17 667.65 L322.91 668.54 L323.9 669.42 L325.14 670.28 L334.2 668.67 L333.63 668.27 L333.17 667.87 L332.82 667.46 L332.6 667.04 L332.51 666.63 L332.54 666.23 L332.7 665.85 L332.98 665.48 L333.38 665.13 L333.9 664.82 Z" fill="none" stroke="#222" stroke-width="0.9" stroke-linejoin="round"/>
<path d="M325.37 671.58 L337.7 667.68 L340.24 668.76 L327.93 672.69 Z" fill="#fff" stroke="#222" stroke-width="1" stroke-linejoin="round"/>
<path d="M343.81 665.75 L356.53 661.73 L359.05 662.76 L346.34 666.82 Z" fill="#fff" stroke="#222" stroke-width="1" stroke-linejoin="round"/>
<path d="M319.77 658.89 L337.37 666.33 L340.21 665.44 L322.64 658.04 Z" fill="#fff" stroke="#222" stroke-width="1" stroke-linejoin="round"/>
<path d="M343.84 669.07 L361.44 676.52 L364.25 675.56 L346.68 668.16 Z" fill="#fff" stroke="#222" stroke-width="1" stroke-linejoin="round"/>
<ellipse cx="342.02" cy="667.25" rx="2.6" ry="1.5" fill="#fff" stroke="#222" stroke-width="0.8" transform="rotate(8 342.02 667.25)"/>
<path d="M400.32 660.97 L401.48 660.2 L402.35 659.35 L402.93 658.46 L403.21 657.53 L403.17 656.57 L402.83 655.6 L402.19 654.64 L401.26 653.68 L400.04 652.75 L398.56 651.85 L385.48 654.23 L385.93 654.5 L386.3 654.78 L386.58 655.08 L386.77 655.37 L386.88 655.66 L386.88 655.95 L386.8 656.22 L386.63 656.49 L386.36 656.74 L386.01 656.96 Z" fill="none" stroke="#222" stroke-width="1.45" stroke-linejoin="round"/>
<path d="M396.85 660.01 L397.81 659.36 L398.54 658.67 L399.02 657.93 L399.25 657.16 L399.22 656.36 L398.94 655.56 L398.41 654.75 L397.63 653.96 L396.62 653.18 L395.39 652.43 L387.07 653.94 L387.65 654.29 L388.12 654.66 L388.48 655.03 L388.73 655.4 L388.86 655.78 L388.87 656.14 L388.76 656.5 L388.54 656.84 L388.2 657.16 L387.75 657.45 Z" fill="none" stroke="#222" stroke-width="0.9" stroke-linejoin="round"/>
<path d="M393.98 663.11 L391.75 663.46 L389.36 663.71 L386.84 663.83 L384.22 663.84 L381.55 663.73 L378.85 663.51 L376.17 663.16 L373.53 662.71 L370.97 662.16 L368.53 661.51 L376.46 657.1 L377.19 657.29 L377.96 657.45 L378.75 657.59 L379.55 657.69 L380.36 657.75 L381.17 657.79 L381.95 657.79 L382.71 657.75 L383.43 657.68 L384.1 657.58 Z" fill="none" stroke="#222" stroke-width="1.45" stroke-linejoin="round"/>
<path d="M391.58 661.76 L389.72 662.05 L387.74 662.25 L385.65 662.36 L383.48 662.36 L381.26 662.27 L379.02 662.08 L376.79 661.8 L374.6 661.43 L372.48 660.97 L370.45 660.43 L375.5 657.63 L376.44 657.88 L377.42 658.09 L378.43 658.26 L379.47 658.39 L380.5 658.47 L381.53 658.52 L382.54 658.52 L383.51 658.47 L384.43 658.38 L385.3 658.25 Z" fill="none" stroke="#222" stroke-width="0.9" stroke-linejoin="round"/>
<path d="M365.82 647.45 L368.07 647.15 L370.48 646.95 L373.02 646.85 L375.64 646.86 L378.32 646.98 L381.01 647.2 L383.69 647.52 L386.31 647.94 L388.85 648.46 L391.26 649.06 L383.28 653.37 L382.56 653.18 L381.79 653.02 L381 652.89 L380.2 652.79 L379.39 652.73 L378.59 652.69 L377.8 652.69 L377.05 652.72 L376.32 652.79 L375.65 652.89 Z" fill="none" stroke="#222" stroke-width="1.45" stroke-linejoin="round"/>
<path d="M368.2 648.77 L370.07 648.51 L372.07 648.34 L374.17 648.26 L376.35 648.27 L378.57 648.36 L380.81 648.55 L383.03 648.82 L385.21 649.17 L387.32 649.6 L389.32 650.1 L384.25 652.84 L383.32 652.6 L382.34 652.4 L381.33 652.24 L380.3 652.11 L379.26 652.02 L378.23 651.98 L377.22 651.98 L376.25 652.02 L375.32 652.1 L374.45 652.22 Z" fill="none" stroke="#222" stroke-width="0.9" stroke-linejoin="round"/>
<path d="M359.37 649.38 L358.19 650.11 L357.3 650.91 L356.7 651.77 L356.42 652.68 L356.45 653.63 L356.79 654.61 L357.44 655.6 L358.39 656.59 L359.63 657.56 L361.13 658.51 L374.26 656.22 L373.81 655.95 L373.44 655.66 L373.15 655.36 L372.96 655.07 L372.86 654.78 L372.85 654.49 L372.93 654.22 L373.11 653.95 L373.37 653.71 L373.73 653.49 Z" fill="none" stroke="#222" stroke-width="1.45" stroke-linejoin="round"/>
<path d="M362.86 650.38 L361.88 650.99 L361.14 651.66 L360.65 652.38 L360.41 653.13 L360.44 653.92 L360.72 654.73 L361.26 655.55 L362.05 656.37 L363.07 657.18 L364.32 657.96 L372.66 656.5 L372.09 656.15 L371.61 655.78 L371.25 655.4 L371 655.02 L370.87 654.65 L370.86 654.28 L370.96 653.93 L371.19 653.59 L371.53 653.28 L371.99 652.99 Z" fill="none" stroke="#222" stroke-width="0.9" stroke-linejoin="round"/>
<path d="M360.48 660.48 L375.86 655.61 L378.35 656.6 L362.99 661.5 Z" fill="#fff" stroke="#222" stroke-width="1" stroke-linejoin="round"/>
<path d="M381.39 653.86 L391.64 650.62 L394.12 651.57 L383.88 654.84 Z" fill="#fff" stroke="#222" stroke-width="1" stroke-linejoin="round"/>
<path d="M357.97 647.58 L375.27 654.42 L378.11 653.53 L360.83 646.74 Z" fill="#fff" stroke="#222" stroke-width="1" stroke-linejoin="round"/>
<path d="M381.63 656.94 L398.94 663.78 L401.75 662.82 L384.47 656.03 Z" fill="#fff" stroke="#222" stroke-width="1" stroke-linejoin="round"/>
<ellipse cx="379.87" cy="655.23" rx="2.6" ry="1.5" fill="#fff" stroke="#222" stroke-width="0.8" transform="rotate(8 379.87 655.23)"/>
<path d="M337.2 653.73 L378.55 670.71 L382.3 669.43 L341.02 652.6 Z" fill="#fff" stroke="#222" stroke-width="1" stroke-linejoin="round"/>
<path d="M422.55 698.44 L423.83 697.48 L424.81 696.46 L425.48 695.39 L425.84 694.28 L425.88 693.16 L425.6 692.02 L425.01 690.9 L424.11 689.81 L422.91 688.75 L421.43 687.74 L407.54 691.01 L407.98 691.32 L408.35 691.64 L408.62 691.97 L408.8 692.31 L408.88 692.65 L408.87 692.99 L408.76 693.32 L408.56 693.63 L408.26 693.94 L407.88 694.22 Z" fill="none" stroke="#222" stroke-width="1.45" stroke-linejoin="round"/>
<path d="M418.99 697.42 L420.05 696.63 L420.87 695.78 L421.43 694.9 L421.73 693.98 L421.76 693.04 L421.53 692.11 L421.03 691.17 L420.28 690.26 L419.29 689.38 L418.06 688.54 L409.23 690.61 L409.8 691.01 L410.26 691.42 L410.61 691.85 L410.84 692.28 L410.95 692.72 L410.93 693.15 L410.79 693.57 L410.53 693.98 L410.15 694.37 L409.66 694.73 Z" fill="none" stroke="#222" stroke-width="0.9" stroke-linejoin="round"/>
<path d="M415.75 701.18 L413.38 701.67 L410.86 702.04 L408.21 702.28 L405.47 702.39 L402.68 702.35 L399.87 702.18 L397.08 701.87 L394.34 701.43 L391.71 700.87 L389.2 700.19 L397.86 694.72 L398.61 694.92 L399.4 695.08 L400.21 695.21 L401.05 695.3 L401.89 695.35 L402.73 695.36 L403.55 695.33 L404.35 695.26 L405.11 695.16 L405.82 695.01 Z" fill="none" stroke="#222" stroke-width="1.45" stroke-linejoin="round"/>
<path d="M413.33 699.67 L411.37 700.08 L409.27 700.39 L407.07 700.58 L404.8 700.67 L402.48 700.64 L400.15 700.5 L397.83 700.24 L395.57 699.88 L393.38 699.42 L391.3 698.86 L396.8 695.38 L397.77 695.64 L398.78 695.85 L399.83 696.01 L400.9 696.13 L401.98 696.19 L403.06 696.21 L404.12 696.17 L405.14 696.08 L406.11 695.94 L407.03 695.76 Z" fill="none" stroke="#222" stroke-width="0.9" stroke-linejoin="round"/>
<path d="M387.46 683.72 L389.85 683.28 L392.4 682.95 L395.06 682.75 L397.81 682.67 L400.61 682.71 L403.42 682.87 L406.2 683.16 L408.91 683.56 L411.53 684.08 L414.01 684.7 L405.3 690.07 L404.55 689.88 L403.77 689.72 L402.95 689.6 L402.11 689.51 L401.27 689.46 L400.43 689.44 L399.61 689.47 L398.81 689.54 L398.05 689.64 L397.34 689.78 Z" fill="none" stroke="#222" stroke-width="1.45" stroke-linejoin="round"/>
<path d="M389.86 685.18 L391.84 684.81 L393.95 684.54 L396.16 684.37 L398.44 684.3 L400.77 684.33 L403.09 684.47 L405.4 684.71 L407.66 685.05 L409.83 685.48 L411.89 686 L406.36 689.42 L405.4 689.17 L404.39 688.97 L403.34 688.81 L402.27 688.69 L401.19 688.63 L400.11 688.61 L399.06 688.65 L398.03 688.73 L397.05 688.86 L396.14 689.04 Z" fill="none" stroke="#222" stroke-width="0.9" stroke-linejoin="round"/>
<path d="M380.54 686.23 L379.24 687.13 L378.24 688.11 L377.55 689.14 L377.18 690.23 L377.13 691.35 L377.42 692.49 L378.02 693.63 L378.94 694.76 L380.16 695.86 L381.67 696.93 L395.61 693.76 L395.16 693.45 L394.8 693.12 L394.52 692.79 L394.34 692.45 L394.26 692.11 L394.27 691.77 L394.38 691.44 L394.59 691.13 L394.89 690.83 L395.27 690.55 Z" fill="none" stroke="#222" stroke-width="1.45" stroke-linejoin="round"/>
<path d="M384.12 687.28 L383.05 688.04 L382.22 688.85 L381.64 689.71 L381.34 690.62 L381.3 691.55 L381.53 692.49 L382.03 693.44 L382.8 694.37 L383.81 695.29 L385.06 696.16 L393.92 694.15 L393.34 693.75 L392.87 693.33 L392.52 692.9 L392.29 692.46 L392.18 692.02 L392.2 691.59 L392.34 691.17 L392.6 690.77 L392.99 690.39 L393.49 690.03 Z" fill="none" stroke="#222" stroke-width="0.9" stroke-linejoin="round"/>
<path d="M385.33 697.56 L397.34 692.99 L399.88 694.06 L387.88 698.66 Z" fill="#fff" stroke="#222" stroke-width="1" stroke-linejoin="round"/>
<path d="M403.28 690.72 L415.67 686.01 L418.19 687.04 L405.81 691.79 Z" fill="#fff" stroke="#222" stroke-width="1" stroke-linejoin="round"/>
<path d="M381.85 685.15 L396.96 691.55 L399.73 690.5 L384.63 684.15 Z" fill="#fff" stroke="#222" stroke-width="1" stroke-linejoin="round"/>
<path d="M403.43 694.29 L418.54 700.68 L421.28 699.58 L406.19 693.22 Z" fill="#fff" stroke="#222" stroke-width="1" stroke-linejoin="round"/>
<ellipse cx="401.58" cy="692.39" rx="2.6" ry="1.5" fill="#fff" stroke="#222" stroke-width="0.8" transform="rotate(8 401.58 692.39)"/>
<path d="M458.79 683.88 L459.9 683.01 L460.73 682.08 L461.27 681.1 L461.5 680.09 L461.44 679.07 L461.07 678.03 L460.4 677.01 L459.44 676 L458.21 675.04 L456.71 674.11 L443.92 677.06 L444.37 677.35 L444.74 677.64 L445.03 677.94 L445.23 678.25 L445.34 678.56 L445.36 678.87 L445.29 679.17 L445.13 679.46 L444.87 679.74 L444.54 679.99 Z" fill="none" stroke="#222" stroke-width="1.45" stroke-linejoin="round"/>
<path d="M455.33 682.94 L456.26 682.22 L456.95 681.45 L457.39 680.64 L457.59 679.81 L457.53 678.96 L457.23 678.1 L456.67 677.25 L455.88 676.41 L454.85 675.6 L453.61 674.83 L445.47 676.71 L446.05 677.07 L446.53 677.45 L446.9 677.84 L447.16 678.23 L447.3 678.63 L447.32 679.03 L447.23 679.41 L447.02 679.79 L446.7 680.14 L446.27 680.47 Z" fill="none" stroke="#222" stroke-width="0.9" stroke-linejoin="round"/>
<path d="M452.61 686.36 L450.43 686.81 L448.08 687.14 L445.6 687.36 L443.03 687.44 L440.39 687.41 L437.72 687.24 L435.06 686.96 L432.45 686.55 L429.91 686.03 L427.48 685.41 L435.13 680.43 L435.86 680.61 L436.62 680.76 L437.4 680.88 L438.2 680.97 L439 681.01 L439.79 681.03 L440.57 681 L441.31 680.94 L442.02 680.85 L442.68 680.72 Z" fill="none" stroke="#222" stroke-width="1.45" stroke-linejoin="round"/>
<path d="M450.2 684.99 L448.38 685.36 L446.43 685.63 L444.37 685.8 L442.24 685.87 L440.05 685.84 L437.83 685.71 L435.63 685.47 L433.46 685.13 L431.35 684.71 L429.34 684.19 L434.2 681.03 L435.14 681.27 L436.11 681.46 L437.12 681.61 L438.14 681.72 L439.17 681.78 L440.18 681.8 L441.17 681.77 L442.13 681.69 L443.04 681.57 L443.88 681.4 Z" fill="none" stroke="#222" stroke-width="0.9" stroke-linejoin="round"/>
<path d="M424.28 670.36 L426.49 669.96 L428.86 669.67 L431.35 669.49 L433.94 669.42 L436.58 669.47 L439.24 669.63 L441.89 669.89 L444.49 670.27 L447.01 670.75 L449.42 671.32 L441.72 676.2 L440.99 676.03 L440.23 675.88 L439.45 675.76 L438.66 675.68 L437.86 675.63 L437.07 675.62 L436.29 675.64 L435.54 675.7 L434.84 675.79 L434.18 675.92 Z" fill="none" stroke="#222" stroke-width="1.45" stroke-linejoin="round"/>
<path d="M426.68 671.71 L428.52 671.37 L430.48 671.13 L432.55 670.98 L434.69 670.92 L436.88 670.95 L439.09 671.09 L441.29 671.31 L443.46 671.62 L445.55 672.02 L447.55 672.5 L442.65 675.61 L441.72 675.38 L440.75 675.19 L439.75 675.04 L438.72 674.94 L437.7 674.88 L436.68 674.86 L435.69 674.89 L434.73 674.96 L433.82 675.08 L432.97 675.24 Z" fill="none" stroke="#222" stroke-width="0.9" stroke-linejoin="round"/>
<path d="M418.01 672.64 L416.87 673.46 L416.02 674.35 L415.47 675.29 L415.22 676.28 L415.29 677.31 L415.66 678.35 L416.34 679.39 L417.31 680.42 L418.56 681.44 L420.08 682.41 L432.93 679.55 L432.47 679.26 L432.1 678.97 L431.81 678.66 L431.61 678.35 L431.5 678.04 L431.48 677.73 L431.55 677.43 L431.71 677.14 L431.97 676.87 L432.3 676.62 Z" fill="none" stroke="#222" stroke-width="1.45" stroke-linejoin="round"/>
<path d="M421.48 673.61 L420.54 674.3 L419.83 675.04 L419.38 675.82 L419.17 676.65 L419.23 677.49 L419.54 678.36 L420.1 679.22 L420.91 680.08 L421.95 680.92 L423.21 681.72 L431.37 679.9 L430.79 679.53 L430.31 679.15 L429.93 678.75 L429.67 678.35 L429.53 677.95 L429.51 677.56 L429.6 677.18 L429.81 676.81 L430.13 676.46 L430.57 676.14 Z" fill="none" stroke="#222" stroke-width="0.9" stroke-linejoin="round"/>
<path d="M419.51 684.55 L434.48 678.85 L436.98 679.84 L422.02 685.57 Z" fill="#fff" stroke="#222" stroke-width="1" stroke-linejoin="round"/>
<path d="M439.87 676.79 L449.85 673 L452.33 673.95 L442.36 677.77 Z" fill="#fff" stroke="#222" stroke-width="1" stroke-linejoin="round"/>
<path d="M419 671.71 L433.86 677.58 L436.63 676.53 L421.79 670.7 Z" fill="#fff" stroke="#222" stroke-width="1" stroke-linejoin="round"/>
<path d="M440.22 680.1 L455.08 685.97 L457.82 684.87 L442.98 679.03 Z" fill="#fff" stroke="#222" stroke-width="1" stroke-linejoin="round"/>
<ellipse cx="438.42" cy="678.31" rx="2.6" ry="1.5" fill="#fff" stroke="#222" stroke-width="0.8" transform="rotate(8 438.42 678.31)"/>
<path d="M398.8 679.02 L435.21 693.97 L438.87 692.5 L402.51 677.68 Z" fill="#fff" stroke="#222" stroke-width="1" stroke-linejoin="round"/>
<path d="M357.5 681.86 L367.69 686.24 L372.35 684.58 L362.18 680.25 Z" fill="#fff" stroke="#222" stroke-width="0.9" stroke-linejoin="round"/>
<path d="M370.36 677.42 L380.5 681.68 L385.15 680.02 L375.04 675.8 Z" fill="#fff" stroke="#222" stroke-width="0.9" stroke-linejoin="round"/>
<path d="M383.22 672.98 L393.3 677.12 L397.95 675.46 L387.9 671.36 Z" fill="#fff" stroke="#222" stroke-width="0.9" stroke-linejoin="round"/>
<path d="M396.08 668.54 L406.1 672.56 L410.75 670.9 L400.76 666.92 Z" fill="#fff" stroke="#222" stroke-width="0.9" stroke-linejoin="round"/>
<path d="M408.94 664.1 L418.9 667.99 L423.55 666.34 L413.62 662.48 Z" fill="#fff" stroke="#222" stroke-width="0.9" stroke-linejoin="round"/>
<path d="M356.44 685.04 L421.8 662.22 L424.7 663.33 L359.42 686.33 Z" fill="#fff" stroke="#222" stroke-width="0.8" stroke-linejoin="round"/>
<ellipse cx="304.17" cy="661.19" rx="2.3" ry="1.6" fill="#fff" stroke="#222" stroke-width="0.9" transform="rotate(-15 304.17 661.19)"/>
<ellipse cx="320.89" cy="656.28" rx="2.3" ry="1.6" fill="#fff" stroke="#222" stroke-width="0.9" transform="rotate(-15 320.89 656.28)"/>
<ellipse cx="336.82" cy="651.59" rx="2.3" ry="1.6" fill="#fff" stroke="#222" stroke-width="0.9" transform="rotate(-15 336.82 651.59)"/>
<ellipse cx="352.75" cy="646.91" rx="2.3" ry="1.6" fill="#fff" stroke="#222" stroke-width="0.9" transform="rotate(-15 352.75 646.91)"/>
<ellipse cx="371.07" cy="641.53" rx="2.3" ry="1.6" fill="#fff" stroke="#222" stroke-width="0.9" transform="rotate(-15 371.07 641.53)"/>
<ellipse cx="395.4" cy="648.78" rx="2.3" ry="1.6" fill="#fff" stroke="#222" stroke-width="0.9" transform="rotate(15 395.4 648.78)"/>
<ellipse cx="418.6" cy="657.63" rx="2.3" ry="1.6" fill="#fff" stroke="#222" stroke-width="0.9" transform="rotate(15 418.6 657.63)"/>
<ellipse cx="434.59" cy="663.74" rx="2.3" ry="1.6" fill="#fff" stroke="#222" stroke-width="0.9" transform="rotate(15 434.59 663.74)"/>
<ellipse cx="455.21" cy="671.61" rx="2.3" ry="1.6" fill="#fff" stroke="#222" stroke-width="0.9" transform="rotate(15 455.21 671.61)"/>
<ellipse cx="473.26" cy="678.5" rx="2.3" ry="1.6" fill="#fff" stroke="#222" stroke-width="0.9" transform="rotate(15 473.26 678.5)"/>
<ellipse cx="301.79" cy="663.68" rx="1.8" ry="1.2" fill="#fff" stroke="#222" stroke-width="0.8" transform="rotate(15 301.79 663.68)"/>
<ellipse cx="345.48" cy="682.72" rx="1.8" ry="1.2" fill="#fff" stroke="#222" stroke-width="0.8" transform="rotate(15 345.48 682.72)"/>
<ellipse cx="362.53" cy="690.14" rx="1.8" ry="1.2" fill="#fff" stroke="#222" stroke-width="0.8" transform="rotate(15 362.53 690.14)"/>
<ellipse cx="401.96" cy="707.33" rx="1.8" ry="1.2" fill="#fff" stroke="#222" stroke-width="0.8" transform="rotate(15 401.96 707.33)"/>
<path d="M295.8 665 L279 675.6 Q274.2 679 275.6 683.5 L278.3 687.7" fill="none" stroke="#222" stroke-width="1.2"/>
<path d="M277.5 679.5 L389.5 728.5" fill="none" stroke="#222" stroke-width="0.8"/>
<path d="M278.3 687.7 L391 737" fill="none" stroke="#222" stroke-width="0.8"/>
<path d="M281 693.7 L391.7 740.2" fill="none" stroke="#111" stroke-width="2.2"/>
<path d="M282 683.5 L296 689.5" fill="none" stroke="#555" stroke-width="0.7"/>
<path d="M302 692 L392 731.5" fill="none" stroke="#555" stroke-width="0.7"/>
<path d="M279 685 L296 692.3" fill="none" stroke="#555" stroke-width="0.7"/>
<path d="M402.5 711.7 Q405.5 713 405.3 717 L405.3 740" fill="none" stroke="#222" stroke-width="0.8"/>
<path d="M384.5 725.5 Q386 719.5 391 717.5 L403 712.2" fill="none" stroke="#222" stroke-width="0.8"/>
<path d="M387 727.5 Q388 722 392.5 720 L404.5 715" fill="none" stroke="#222" stroke-width="0.8"/>
<path d="M384.5 725.5 Q385.5 731 389.5 733.5" fill="none" stroke="#222" stroke-width="0.8"/>
<ellipse cx="296.6" cy="675.4" rx="6.4" ry="5.1" fill="#fff" stroke="#222" stroke-width="1.4" transform="rotate(-10 296.6 675.4)"/>
<path d="M292.4 677 A4.6 3.6 -10 0 1 298.1 671.3" fill="none" stroke="#222" stroke-width="0.8"/>
<path d="M293 678.1 L300.3 672.5" fill="none" stroke="#222" stroke-width="1.2"/>
<path d="M294.4 679 L301.2 673.8" fill="none" stroke="#555" stroke-width="0.8"/>
<ellipse cx="311.3" cy="681.6" rx="6.4" ry="5.1" fill="#fff" stroke="#222" stroke-width="1.4" transform="rotate(-10 311.3 681.6)"/>
<path d="M307.1 683.2 A4.6 3.6 -10 0 1 312.8 677.5" fill="none" stroke="#222" stroke-width="0.8"/>
<path d="M307.7 684.3 L315 678.7" fill="none" stroke="#222" stroke-width="1.2"/>
<path d="M309.1 685.2 L315.9 680" fill="none" stroke="#555" stroke-width="0.8"/>
<ellipse cx="366.7" cy="706" rx="6.4" ry="5.1" fill="#fff" stroke="#222" stroke-width="1.4" transform="rotate(-10 366.7 706)"/>
<path d="M362.5 707.6 A4.6 3.6 -10 0 1 368.2 701.9" fill="none" stroke="#222" stroke-width="0.8"/>
<path d="M363.1 708.7 L370.4 703.1" fill="none" stroke="#222" stroke-width="1.2"/>
<path d="M364.5 709.6 L371.3 704.4" fill="none" stroke="#555" stroke-width="0.8"/>
<ellipse cx="382.3" cy="712.7" rx="6.4" ry="5.1" fill="#fff" stroke="#222" stroke-width="1.4" transform="rotate(-10 382.3 712.7)"/>
<path d="M378.1 714.3 A4.6 3.6 -10 0 1 383.8 708.6" fill="none" stroke="#222" stroke-width="0.8"/>
<path d="M378.7 715.4 L386 709.8" fill="none" stroke="#222" stroke-width="1.2"/>
<path d="M380.1 716.3 L386.9 711.1" fill="none" stroke="#555" stroke-width="0.8"/>
<path d="M314.3 691.7 L327 681 L363.7 697.7 L351.7 707.7 Z" fill="none" stroke="#222" stroke-width="0.8"/>
<path d="M315.5 693.4 L352.5 709.5" fill="none" stroke="#555" stroke-width="1.6" stroke-dasharray="0.8 0.8"/>
<path d="M282 697.5 L391 744" fill="none" stroke="#222" stroke-width="0.8"/>
<path d="M284 704 Q282.3 707.5 284 711 L383.5 754.5 Q390 756.5 390.5 750 L390.5 746" fill="none" stroke="#222" stroke-width="0.8"/>
<path d="M285 701.5 L387 745.5" fill="none" stroke="#555" stroke-width="1.4" stroke-dasharray="0.8 0.8"/>
<ellipse cx="294.4" cy="711" rx="1.5" ry="2.9" fill="#fff" stroke="#222" stroke-width="0.9" transform="rotate(-5 294.4 711)"/>
<path d="M293.5 708 L386.5 748" fill="none" stroke="#222" stroke-width="0.8"/>
<path d="M292.5 717 L370 751.5" fill="none" stroke="#222" stroke-width="0.8"/>
<path d="M370 751.5 Q383 757 388.5 752" fill="none" stroke="#222" stroke-width="0.8"/>
<path d="M386 743.5 L392.5 746 L392.5 760.5 L381.5 756" fill="none" stroke="#222" stroke-width="0.8"/>
<path d="M392.5 746 L392.5 760.5" fill="none" stroke="#111" stroke-width="1.6"/>
<path d="M279.3 688 L279.3 788" fill="none" stroke="#222" stroke-width="0.8"/>
<path d="M281.2 694 L281.2 788" fill="none" stroke="#555" stroke-width="0.6"/>
<path d="M284.2 712 L284.2 786" fill="none" stroke="#222" stroke-width="0.8"/>
<path d="M290.8 716 L290.8 778" fill="none" stroke="#222" stroke-width="0.8"/>
<path d="M284.2 786 L286.5 788 L290.8 783.5 L290.8 778" fill="none" stroke="#222" stroke-width="0.8"/>
<path d="M389.6 761 L389.6 846" fill="none" stroke="#555" stroke-width="0.7"/>
<path d="M381.5 756 L381.5 762" fill="none" stroke="#222" stroke-width="0.8"/>
<path d="M383 795 L383 828" fill="none" stroke="#555" stroke-width="0.7"/>
<path d="M383 828 Q383.5 836 386 838.5 L388.6 838" fill="none" stroke="#222" stroke-width="0.8"/>
<path d="M275.8 785.8 L303.5 801.8" fill="none" stroke="#333" stroke-width="2.4"/>
<path d="M276.5 784.3 L304 800.2" fill="none" stroke="#222" stroke-width="0.7"/>
<path d="M334.2 817.5 L391 847.5" fill="none" stroke="#333" stroke-width="2.4"/>
<path d="M335.5 816 L391.5 845.5" fill="none" stroke="#222" stroke-width="0.7"/>
<path d="M275.8 792.3 L303.2 806.7" fill="none" stroke="#222" stroke-width="0.7"/>
<path d="M279.4 810.3 L279.4 798.8 L303.2 811" fill="none" stroke="#222" stroke-width="0.7"/>
<path d="M279.4 810.3 L303.2 822.6" fill="none" stroke="#222" stroke-width="0.7"/>
<path d="M280.8 800.2 Q281.5 808 284.4 808.9 Q289 810.5 293.8 805.3" fill="none" stroke="#222" stroke-width="0.7"/>
<path d="M329.2 819.7 L384.1 848.6" fill="none" stroke="#222" stroke-width="0.7"/>
<path d="M325.6 821.9 L381 851.5" fill="none" stroke="#222" stroke-width="0.7"/>
<path d="M317 829.8 L372 859" fill="none" stroke="#222" stroke-width="0.7"/>
<path d="M371.1 847.2 L384.1 865.2 L383.4 852.2" fill="none" stroke="#555" stroke-width="0.6"/>
<path d="M376 850 L386 860" fill="none" stroke="#555" stroke-width="0.6"/>
<path d="M387.4 760 L387.4 886 L391.8 887.5 L405.4 878.7" fill="none" stroke="#222" stroke-width="0.8"/>
<path d="M392.4 741 L392.4 887" fill="none" stroke="#222" stroke-width="0.8"/>
<path d="M395 735 L395 760" fill="none" stroke="#555" stroke-width="0.7"/>
<path d="M405.4 717 L405.4 878.7" fill="none" stroke="#222" stroke-width="0.8"/>
<path d="M392.6 741 L405.3 735.5" fill="none" stroke="#222" stroke-width="0.8"/>
<ellipse cx="398.4" cy="748.9" rx="1.1" ry="1.5" fill="#fff" stroke="#222" stroke-width="0.8" transform="rotate(10 398.4 748.9)"/>
<ellipse cx="398.4" cy="777.6" rx="1.1" ry="1.5" fill="#fff" stroke="#222" stroke-width="0.8" transform="rotate(10 398.4 777.6)"/>
<ellipse cx="398.4" cy="805.5" rx="1.1" ry="1.5" fill="#fff" stroke="#222" stroke-width="0.8" transform="rotate(10 398.4 805.5)"/>
<circle cx="401.8" cy="793.1" r="1.8" fill="#fff" stroke="#222" stroke-width="0.9"/>
<path d="M405 720.6 L466.1 696.7" fill="none" stroke="#222" stroke-width="0.8"/>
<path d="M406.1 737.8 L462.8 712.8" fill="none" stroke="#222" stroke-width="0.7"/>
<circle cx="414.4" cy="731.7" r="1" fill="#fff" stroke="#222" stroke-width="0.8"/>
<circle cx="447.8" cy="717.2" r="1" fill="#fff" stroke="#222" stroke-width="0.8"/>
<circle cx="461.7" cy="711.3" r="1" fill="#fff" stroke="#222" stroke-width="0.8"/>
<path d="M420 729.7 L420.6 731.5" fill="none" stroke="#222" stroke-width="0.7"/>
<path d="M431 723.7 L431.6 725.5" fill="none" stroke="#222" stroke-width="0.7"/>
<path d="M441.5 721.2 L442.1 723" fill="none" stroke="#222" stroke-width="0.7"/>
<path d="M445 719.5 L445.6 721.3" fill="none" stroke="#222" stroke-width="0.7"/>
<path d="M436.7 708.9 L436.7 715" fill="none" stroke="#222" stroke-width="0.9"/>
<path d="M435.6 709.5 L436.7 708.9" fill="none" stroke="#222" stroke-width="0.7"/>
<path d="M441.1 705.8 L458.9 699.5" fill="none" stroke="#333" stroke-width="0.75"/>
<path d="M441.1 706.95 L458.9 700.6" fill="none" stroke="#333" stroke-width="0.75"/>
<path d="M441.1 708.1 L458.9 701.7" fill="none" stroke="#333" stroke-width="0.75"/>
<path d="M441.1 709.25 L458.9 702.8" fill="none" stroke="#333" stroke-width="0.75"/>
<path d="M441.1 710.4 L458.9 703.9" fill="none" stroke="#333" stroke-width="0.75"/>
<path d="M466.1 696.7 L466.1 706.7" fill="none" stroke="#222" stroke-width="0.7"/>
<path d="M462.2 708.5 L462.2 798" fill="none" stroke="#222" stroke-width="0.8"/>
<path d="M464.4 707.5 L464.4 797" fill="none" stroke="#555" stroke-width="0.7"/>
<path d="M467.2 706.3 L467.2 796" fill="none" stroke="#222" stroke-width="0.8"/>
<path d="M462.2 708.5 L467.2 706.3" fill="none" stroke="#222" stroke-width="0.7"/>
<ellipse cx="460.6" cy="755" rx="1.8" ry="1.3" fill="#fff" stroke="#222" stroke-width="0.8" transform="rotate(-20 460.6 755)"/>
<ellipse cx="460.6" cy="766.7" rx="1.8" ry="1.3" fill="#fff" stroke="#222" stroke-width="0.8" transform="rotate(-20 460.6 766.7)"/>
<path d="M406.1 779.4 L462.8 751.1" fill="none" stroke="#222" stroke-width="0.8"/>
<path d="M415 775.6 L415 813.3" fill="none" stroke="#222" stroke-width="0.8"/>
<path d="M417.2 774.6 L417.2 812.3" fill="none" stroke="#222" stroke-width="0.8"/>
<path d="M440.6 763 L440.6 799" fill="none" stroke="#222" stroke-width="1.5"/>
<path d="M440.8 798.7 L462.2 787" fill="none" stroke="#333" stroke-width="0.7"/>
<path d="M440.8 797.8 L462.2 786.1" fill="none" stroke="#333" stroke-width="0.7"/>
<path d="M440.8 796.9 L462.2 785.2" fill="none" stroke="#333" stroke-width="0.7"/>
<path d="M440.8 796 L462.2 784.3" fill="none" stroke="#333" stroke-width="0.7"/>
<path d="M462.2 790 L467.2 787.5 L467.2 796 L462.2 798.5" fill="none" stroke="#222" stroke-width="0.7"/>
<path d="M467.4 781.4 L480.9 787.9 L480.9 828.5" fill="none" stroke="#222" stroke-width="0.8"/>
<path d="M479.5 790.5 L479.5 798.5" fill="none" stroke="#222" stroke-width="0.7"/>
<path d="M461.8 799.6 L480.5 788.4" fill="none" stroke="#222" stroke-width="0.8"/>
<path d="M474.4 793 L474.4 825.5" fill="none" stroke="#8a8a8a" stroke-width="0.7"/>
<path d="M476.1 792 L476.1 824.8" fill="none" stroke="#555" stroke-width="0.7"/>
<path d="M478.8 807.3 L483.2 807.3 L483.8 812.2 L478.8 812.6 Z" fill="#fff" stroke="#222" stroke-width="0.9"/>
<path d="M479.4 807.1 L481 805.4 L482.6 807.1" fill="none" stroke="#222" stroke-width="0.8"/>
<path d="M406.7 816.9 L446.9 796.3" fill="none" stroke="#222" stroke-width="0.8"/>
<path d="M406.7 821.1 L447.8 798.7" fill="none" stroke="#222" stroke-width="0.8"/>
<path d="M406.7 830.4 L461.8 798.7" fill="none" stroke="#222" stroke-width="0.8"/>
<path d="M406.7 833.7 L462.7 801" fill="none" stroke="#222" stroke-width="0.8"/>
<ellipse cx="441.5" cy="802.3" rx="2.6" ry="1.2" fill="none" stroke="#222" stroke-width="0.7" transform="rotate(-28 441.5 802.3)"/>
<path d="M428.2 809.3 L428.9 810.6" fill="none" stroke="#222" stroke-width="1"/>
<path d="M406.7 836 L448.7 812.7" fill="none" stroke="#222" stroke-width="0.8"/>
<path d="M409.5 837.7 L447.5 816.3" fill="none" stroke="#444" stroke-width="0.7"/>
<path d="M409.5 838.8 L447.5 817.4" fill="none" stroke="#444" stroke-width="0.7"/>
<path d="M409.5 839.9 L447.5 818.5" fill="none" stroke="#444" stroke-width="0.7"/>
<path d="M409.5 841 L447.5 819.6" fill="none" stroke="#444" stroke-width="0.7"/>
<path d="M409.5 842.1 L447.5 820.7" fill="none" stroke="#444" stroke-width="0.7"/>
<path d="M406.7 850.5 L442.5 830" fill="none" stroke="#222" stroke-width="0.7"/>
<path d="M443.1 822 L443.1 835" fill="none" stroke="#222" stroke-width="0.7"/>
<path d="M446.4 820.5 L446.4 833.4" fill="none" stroke="#222" stroke-width="0.7"/>
<path d="M448.7 812.7 L448.7 832" fill="none" stroke="#222" stroke-width="0.8"/>
<path d="M453.4 809.9 L468.3 817.3 L472 822.9" fill="none" stroke="#222" stroke-width="0.8"/>
<path d="M455 808.2 L470 815.6 L473.8 821" fill="none" stroke="#222" stroke-width="0.7"/>
<path d="M453.8 811.5 L468.5 819" fill="none" stroke="#8a8a8a" stroke-width="1.2" stroke-dasharray="0.7 0.7"/>
<path d="M446.2 827 L446.6 828" fill="none" stroke="#222" stroke-width="0.9"/>
<circle cx="449.8" cy="829.3" r="1.5" fill="#333" stroke="#222" stroke-width="0.6"/>
<circle cx="452.8" cy="827.2" r="1.2" fill="#fff" stroke="#222" stroke-width="0.7"/>
<path d="M431.9 843 L463.7 824.8" fill="none" stroke="#222" stroke-width="0.8"/>
<path d="M406.3 861.8 L464 828.5" fill="none" stroke="#222" stroke-width="0.8"/>
<path d="M406.3 858 L432 843" fill="none" stroke="#222" stroke-width="0.7"/>
<path d="M408 856 L441 837" fill="none" stroke="#8a8a8a" stroke-width="1.2" stroke-dasharray="0.7 0.7"/>
<path d="M406.3 866.7 L480.1 824.9" fill="none" stroke="#222" stroke-width="0.8"/>
<path d="M406.3 868.7 L480.3 826.7" fill="none" stroke="#555" stroke-width="0.7"/>
<path d="M406.3 870.7 L480.6 828.4" fill="none" stroke="#222" stroke-width="0.8"/>
<path d="M406.3 872.5 L472 835" fill="none" stroke="#555" stroke-width="0.7"/>
<path d="M406.3 874.2 L469.9 836.9" fill="none" stroke="#222" stroke-width="0.8"/>
<path d="M480.1 824.5 L480.9 828.8" fill="none" stroke="#222" stroke-width="0.8"/>
<ellipse cx="465" cy="830.3" rx="1.9" ry="2.7" fill="#222" stroke="#222" stroke-width="0.6"/>
<circle cx="472.3" cy="824.4" r="1.5" fill="#fff" stroke="#222" stroke-width="0.8"/>
<circle cx="477.5" cy="826.8" r="0.7" fill="#fff" stroke="#222" stroke-width="0.6"/>
<ellipse cx="466.5" cy="839" rx="3.3" ry="1.6" fill="#555" stroke="#222" stroke-width="0.7" transform="rotate(-20 466.5 839)"/>
<path d="M450 841.5 L458 837.8" fill="none" stroke="#222" stroke-width="1.6"/>
<path d="M405.6 793.5 Q412 797 417 803.5" fill="none" stroke="#222" stroke-width="0.8"/>
<ellipse cx="410.3" cy="802.3" rx="6" ry="2.8" fill="none" stroke="#222" stroke-width="0.8" transform="rotate(-25 410.3 802.3)"/>
<path d="M405.6 808 Q410 812 415.5 807.5" fill="none" stroke="#222" stroke-width="0.8"/>
<path d="M406 834 L412 833 L407 843 Z" fill="#444" stroke="#222" stroke-width="0.7"/>
</g>
</svg>
</body></html>
